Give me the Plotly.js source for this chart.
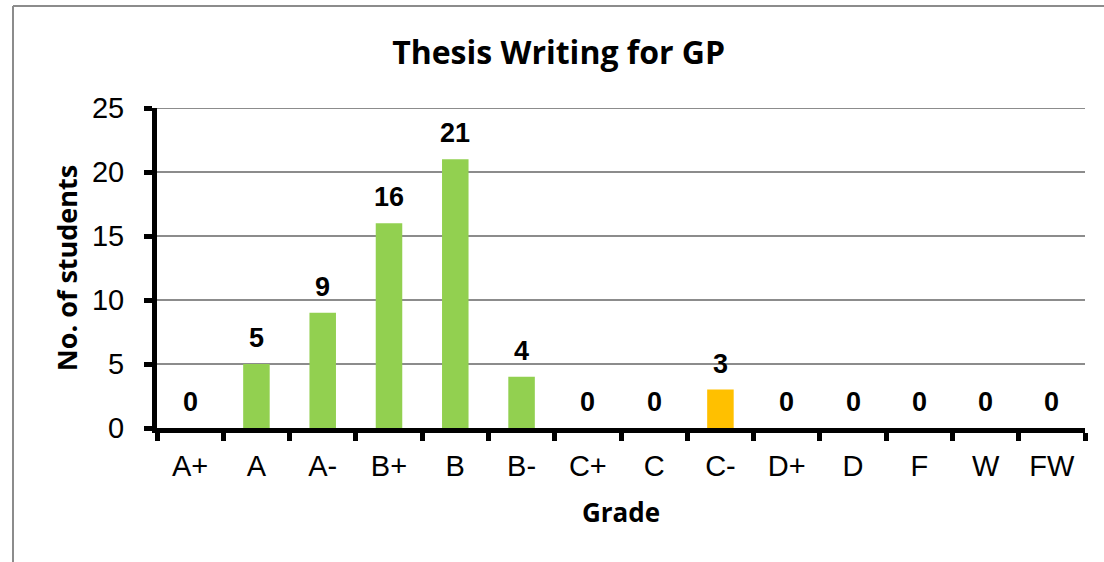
<!DOCTYPE html>
<html><head><meta charset="utf-8">
<script src="https://cdn.plot.ly/plotly-3.0.1.min.js"></script>
<style>html,body{margin:0;padding:0;background:#fff;}</style>
</head><body>
<div id="chart" style="width:1104px;height:562px;"></div>
<script>
var grades = ["A+","A","A-","B+","B","B-","C+","C","C-","D+","D","F","W","FW"];
var students = [0,5,9,16,21,4,0,0,3,0,0,0,0,0];
var barColors = ["#92D050","#92D050","#92D050","#92D050","#92D050","#92D050","#92D050","#92D050","#FFC000","#92D050","#92D050","#92D050","#92D050","#92D050"];
var yTicks = [0,5,10,15,20,25];

var L=157, R=19, T=108, B=134, W=1104, H=562;
var pw = W-L-R, ph = H-T-B;
var arial = 'Liberation Sans, Arial, sans-serif';
var head = 'Open Sans, Lato, sans-serif';

var trace = {
  type: 'bar', x: grades, y: students,
  marker: {color: barColors},
  cliponaxis: false, hoverinfo: 'none'
};

var labels = grades.map(function (g, i) {
  return {x: g, y: students[i], xref: 'x', yref: 'y', text: '<b>' + students[i] + '</b>',
          showarrow: false, yanchor: 'bottom', yshift: 9,
          font: {family: arial, size: 27, color: '#000'}};
});

var layout = {
  width: W, height: H,
  margin: {l: L, r: R, t: T, b: B, pad: 0},
  paper_bgcolor: '#fff', plot_bgcolor: '#fff',
  bargap: 0.6, showlegend: false,
  title: {text: '<b>Thesis Writing for GP</b>', x: 0.506, xanchor: 'center', y: 0.906, yanchor: 'middle',
          font: {family: head, size: 32, color: '#000'}},
  xaxis: {
    type: 'category', showline: true, linecolor: '#000', linewidth: 5,
    ticks: 'outside', tickson: 'boundaries', ticklen: 8, tickwidth: 5, tickcolor: '#000',
    ticklabelstandoff: 8,
    tickfont: {family: arial, size: 29, color: '#000'},
    showgrid: false, zeroline: false,
    title: {text: '<b>Grade</b>', standoff: 25, font: {family: head, size: 26, color: '#000'}}
  },
  yaxis: {
    range: [0, 25], tickvals: yTicks, showline: true, linecolor: '#000', linewidth: 5,
    ticks: 'outside', ticklen: 8, tickwidth: 5, tickcolor: '#000',
    ticklabelstandoff: 14,
    tickfont: {family: arial, size: 29, color: '#000'},
    showgrid: true, gridcolor: '#8c8c8c', gridwidth: 2, zeroline: false,
    title: {text: '<b>No. of students</b>', standoff: 8, font: {family: head, size: 27, color: '#000'}}
  },
  annotations: labels,
  shapes: [
    {type: 'line', xref: 'paper', yref: 'y', x0: 0, x1: 1, y0: yTicks[yTicks.length-1], y1: yTicks[yTicks.length-1], line: {color: '#8c8c8c', width: 2}, layer: 'below'},
    {type: 'line', xref: 'paper', yref: 'paper', x0: (13-L)/pw, x1: (13-L)/pw, y0: 1+(T-6)/ph, y1: -(H-T-ph+10)/ph, line: {color: '#8c8c8c', width: 2}},
    {type: 'line', xref: 'paper', yref: 'paper', x0: (13-L)/pw, x1: (W+10-L)/pw, y0: 1+(T-6)/ph, y1: 1+(T-6)/ph, line: {color: '#8c8c8c', width: 2}}
  ]
};

Plotly.newPlot('chart', [trace], layout, {staticPlot: true, displayModeBar: false});
</script>
</body></html>
